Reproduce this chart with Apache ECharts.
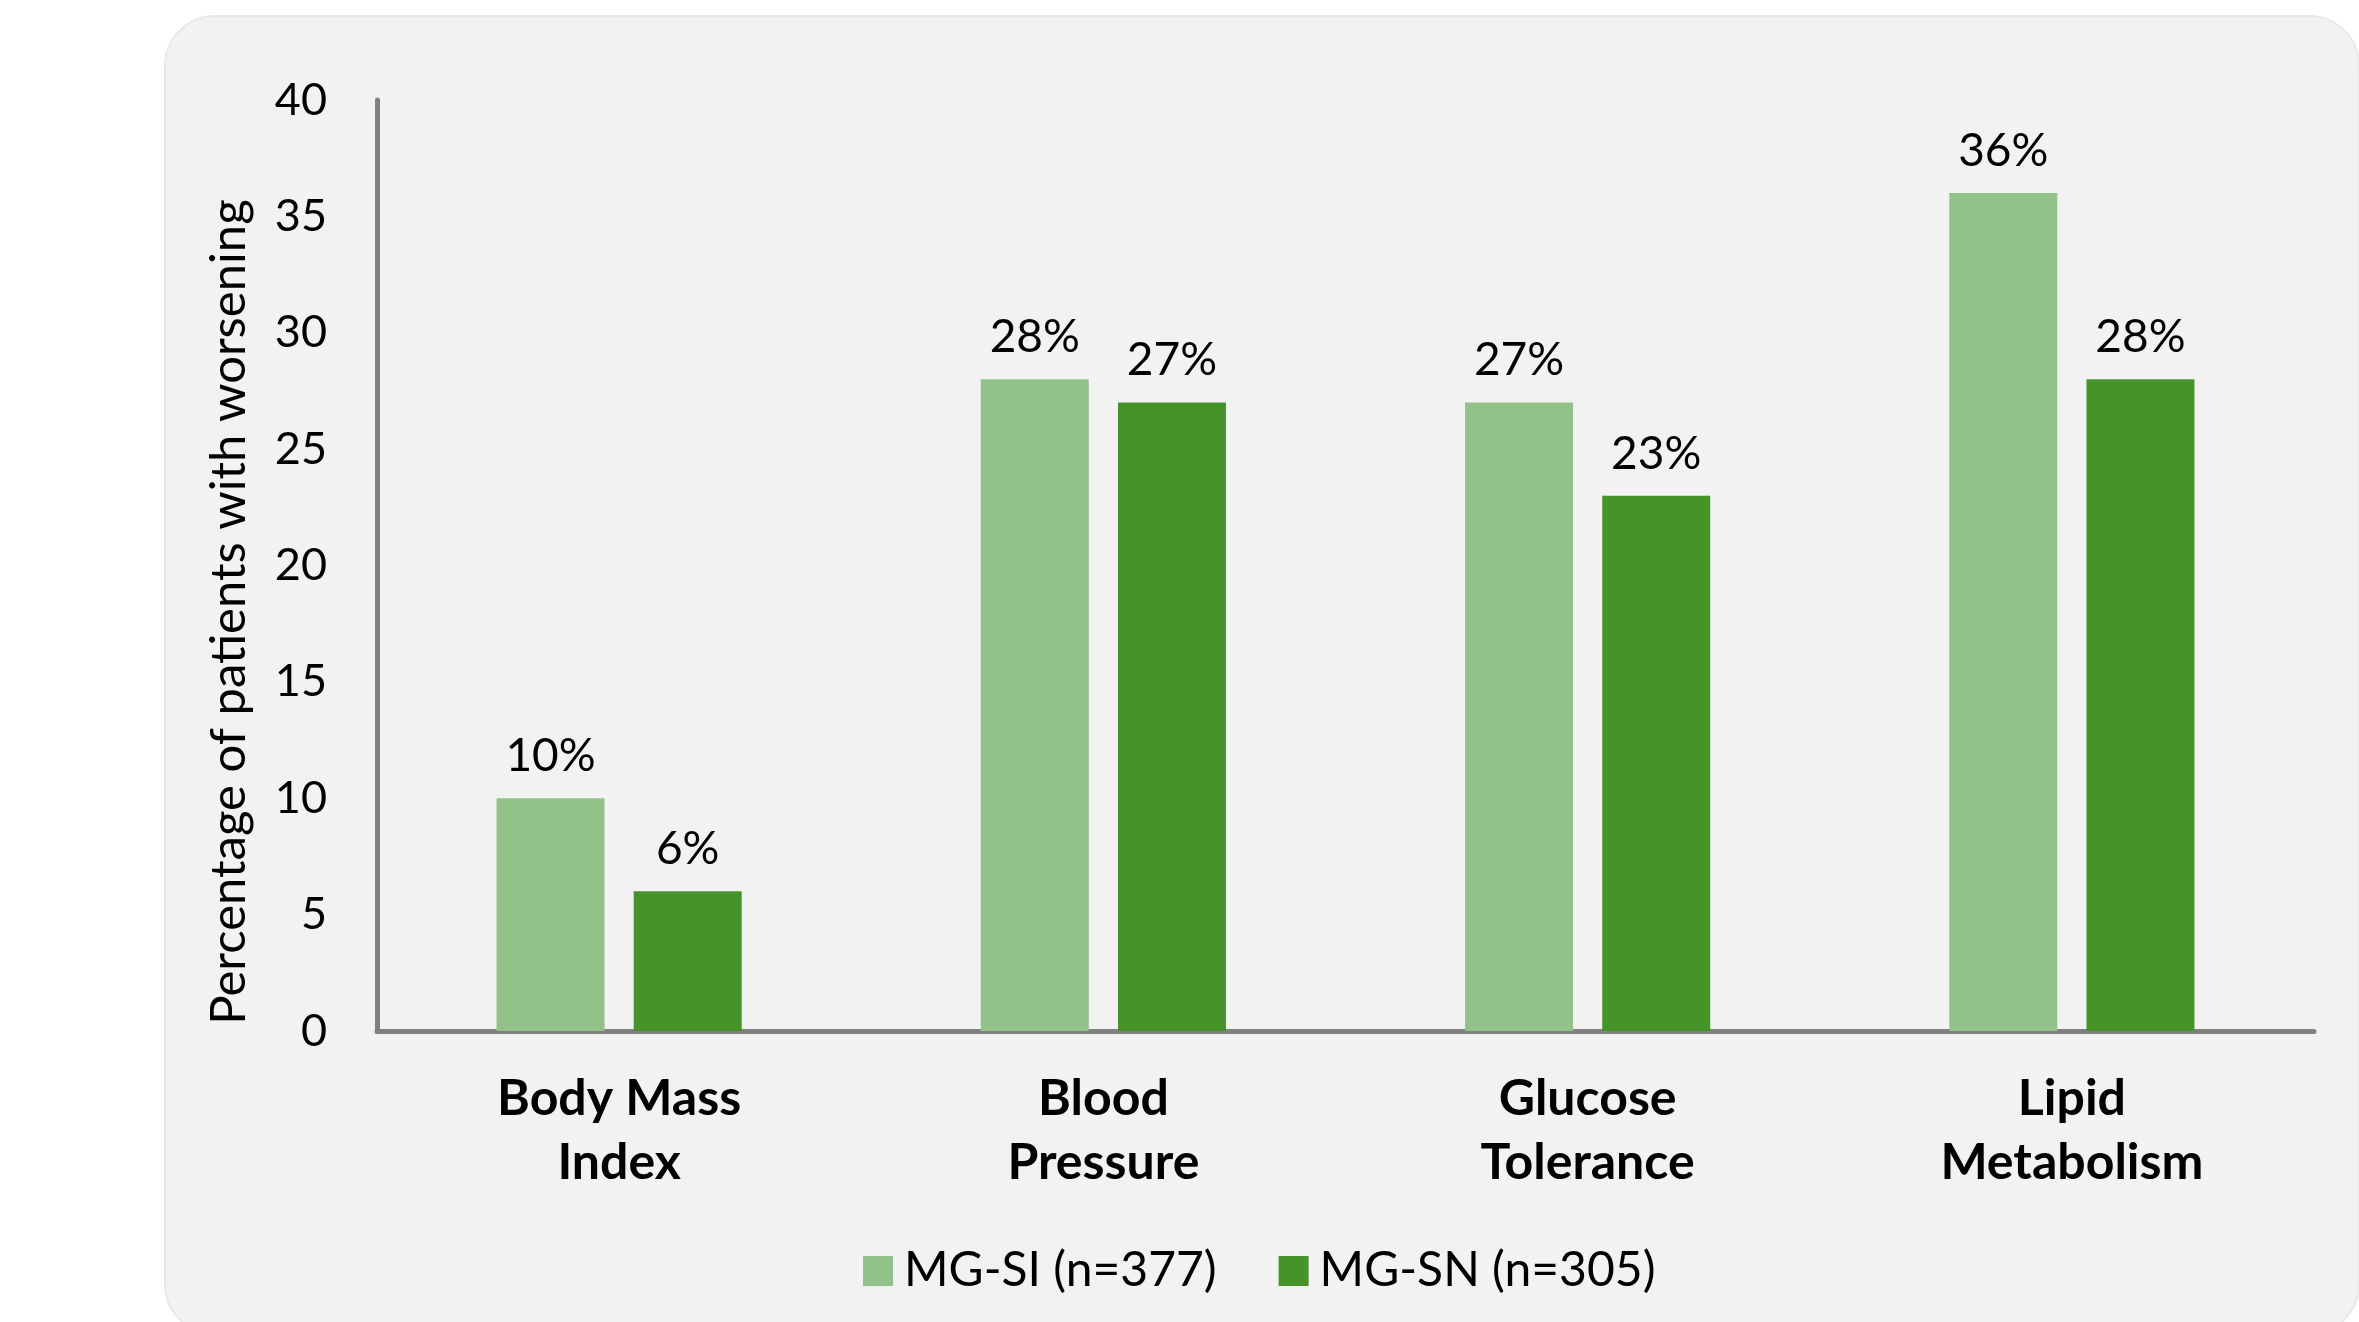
<!DOCTYPE html>
<html>
<head>
<meta charset="utf-8">
<script src="https://cdn.jsdelivr.net/npm/echarts@6/dist/echarts.min.js"></script>
<style>
html,body{margin:0;padding:0;background:#ffffff;}
#chart{width:2359px;height:1322px;}
</style>
</head>
<body>
<div id="chart"></div>
<script>
const categories = ['Body Mass\nIndex', 'Blood\nPressure', 'Glucose\nTolerance', 'Lipid\nMetabolism'];
const seriesNames = ['MG-SI (n=377)', 'MG-SN (n=305)'];
const mgSI = [10, 28, 27, 36];
const mgSN = [6, 27, 23, 28];
const yTicks = [0, 5, 10, 15, 20, 25, 30, 35, 40];
const yAxisTitle = 'Percentage of patients with worsening';

const FONT = 'Lato';
const chart = echarts.init(document.getElementById('chart'), null, {renderer: 'canvas'});

const labelCfg = {
  show: true,
  position: 'top',
  distance: 19,
  formatter: p => p.value + '%',
  fontFamily: FONT,
  fontSize: 46,
  color: '#000000'
};

chart.setOption({
  backgroundColor: '#ffffff',
  animation: false,
  graphic: [
    {
      type: 'rect',
      z: -10,
      shape: {x: 165, y: 16, width: 2194, height: 1318, r: 50},
      style: {fill: '#f2f2f2', stroke: '#e8e8e8', lineWidth: 2}
    },
    {
      type: 'text',
      x: 229,
      y: 612,
      rotation: Math.PI / 2,
      style: {
        text: yAxisTitle,
        fontFamily: FONT,
        fontSize: 49,
        fill: '#000000',
        textAlign: 'center',
        textVerticalAlign: 'middle'
      }
    }
  ],
  grid: {left: 377, right: 45, top: 100, bottom: 291, containLabel: false},
  legend: {
    left: 858,
    top: 1242,
    itemWidth: 30,
    itemHeight: 30,
    itemGap: 62,
    icon: 'rect',
    textStyle: {fontFamily: FONT, fontSize: 48, color: '#000000', padding: [0, 0, 0, 6]},
    data: seriesNames
  },
  xAxis: {
    type: 'category',
    data: categories,
    axisLine: {show: true, lineStyle: {color: '#808080', width: 5}},
    axisTick: {show: false},
    axisLabel: {
      margin: 36,
      fontFamily: FONT,
      fontWeight: 'bold',
      fontSize: 50,
      lineHeight: 64,
      color: '#000000',
      interval: 0
    }
  },
  yAxis: {
    type: 'value',
    min: 0,
    max: 40,
    interval: 5,
    axisLine: {show: true, lineStyle: {color: '#808080', width: 5}},
    axisTick: {show: false},
    splitLine: {show: false},
    axisLabel: {
      margin: 50,
      fontFamily: FONT,
      fontSize: 45,
      color: '#000000',
      formatter: v => (yTicks.indexOf(v) >= 0 ? String(v) : '')
    }
  },
  series: [
    {
      name: seriesNames[0],
      type: 'bar',
      data: mgSI,
      barWidth: 108,
      barGap: '27%',
      itemStyle: {color: '#92C18A'},
      label: labelCfg
    },
    {
      name: seriesNames[1],
      type: 'bar',
      data: mgSN,
      barWidth: 108,
      itemStyle: {color: '#46932A'},
      label: labelCfg
    }
  ]
});
</script>
</body>
</html>
